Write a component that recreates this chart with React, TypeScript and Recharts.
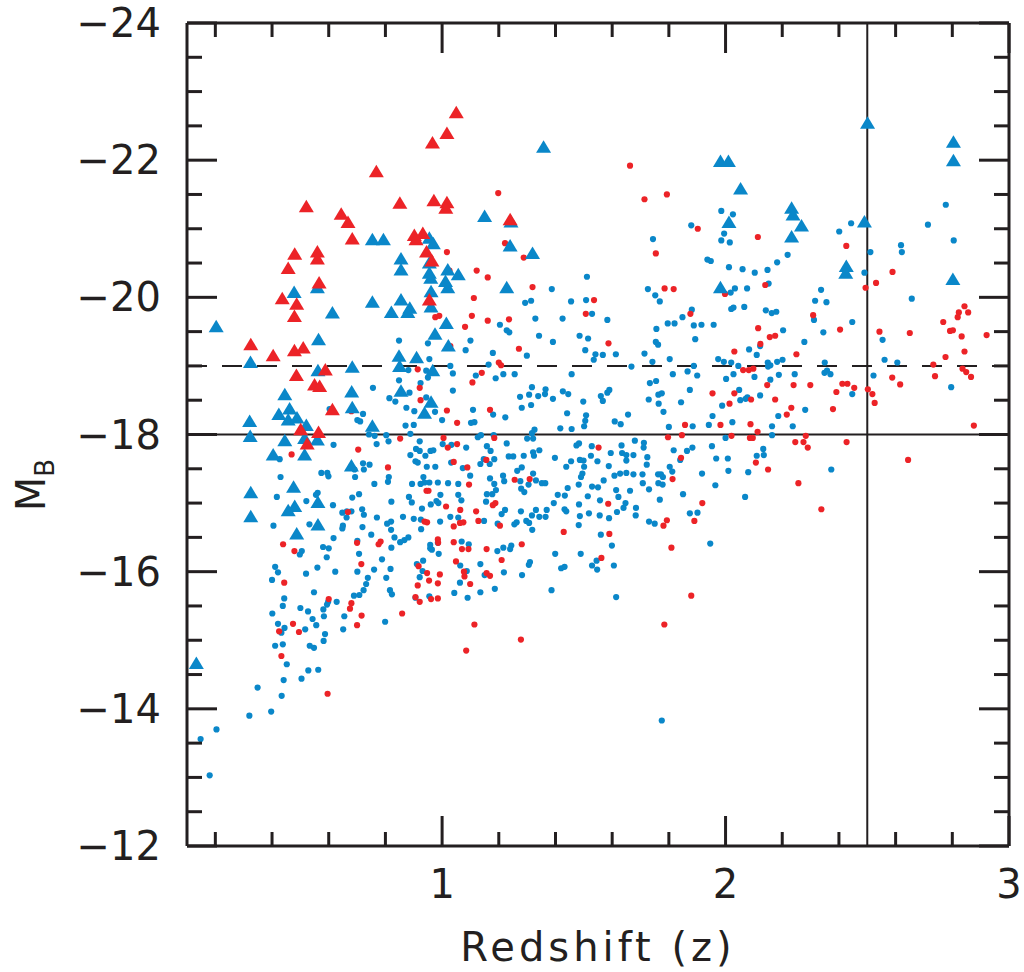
import { ScatterChart, Scatter, XAxis, YAxis, ReferenceLine } from 'recharts';

const INK = '#231f20';
const BLUE = '#0a87c9';
const RED = '#ec2327';
const FONT = '"DejaVu Sans", Verdana, sans-serif';

const W = 1024;
const H = 972;
// each axis takes 1px, so the plot area is 187..1009 x 23..846
const MARGIN = { top: 22, right: 14, bottom: 125, left: 186 };
const PLOT_LEFT = 187;
const PLOT_RIGHT = 1009;

// axis ticks
const zTicks = [0.2, 0.4, 0.6, 0.8, 1, 1.2, 1.4, 1.6, 1.8, 2, 2.2, 2.4, 2.6, 2.8, 3];
const zLabels = [1, 2, 3];
const magTicks = [
  -24, -23.5, -23, -22.5, -22, -21.5, -21, -20.5, -20, -19.5, -19, -18.5, -18,
  -17.5, -17, -16.5, -16, -15.5, -15, -14.5, -14, -13.5, -13, -12.5, -12,
];
const magLabels = [-24, -22, -20, -18, -16, -14, -12];

// reference lines
const magLimit = -18;
const magBright = -19;
const zLimit = 2.5;

// [redshift, M_B]
const blueDots = [
  [1.985, -21.26], [2.026, -21.21], [1.879, -21.05], [1.995, -20.93], [1.744, -20.85], [1.985, -20.83], [2.015, -20.8],
  [1.936, -20.55], [1.948, -20.53], [2.012, -20.44], [1.511, -20.3], [1.387, -20.12], [1.726, -20.12],
  [2.777, -21.35], [2.714, -21.06], [2.443, -21.08], [2.401, -20.96], [2.619, -20.76], [2.622, -20.66], [2.805, -20.83],
  [2.511, -20.66], [2.219, -20.62], [2.182, -20.51], [2.148, -20.4], [2.103, -20.36], [2.06, -20.41], [2.49, -20.36],
  [2.152, -20.2], [2.033, -20.13], [2.076, -20.13], [2.337, -20.11],
  [0.848, -19.37], [0.95, -19.33], [0.955, -19.1], [0.881, -18.94], [0.944, -18.93], [0.95, -18.83], [0.756, -18.68],
  [0.848, -18.79], [0.924, -18.75], [0.885, -18.61], [1.038, -18.64], [0.814, -18.53], [0.835, -18.48], [0.944, -18.54],
  [0.874, -18.39], [0.902, -18.34], [0.975, -18.33], [0.603, -18.37], [0.721, -18.3], [0.701, -18.21], [0.711, -18.19],
  [1.0, -18.21], [0.871, -18.13], [0.9, -18.14], [0.742, -18.0], [0.762, -17.98], [0.803, -17.99], [0.888, -18.01],
  [0.811, -17.9], [0.921, -17.9], [0.617, -17.85], [1.029, -19.0], [1.038, -18.89],
  [1.752, -20.03], [1.768, -19.94], [1.314, -19.95], [1.293, -19.92], [1.455, -19.94], [1.508, -19.96], [1.529, -19.76],
  [1.329, -19.69], [1.425, -19.69], [1.204, -19.6], [1.228, -19.52], [1.237, -19.49], [1.583, -19.67], [1.342, -19.44],
  [1.391, -19.35], [1.485, -19.44], [1.515, -19.4], [1.1, -19.37], [1.083, -19.23], [1.179, -19.19], [1.299, -19.15],
  [1.505, -19.23], [1.541, -19.17], [1.567, -19.16], [1.535, -19.09], [1.613, -19.17], [1.164, -19.02], [1.119, -18.86],
  [1.189, -18.82], [1.216, -18.88], [1.256, -18.88], [1.457, -18.88], [1.668, -18.99], [1.714, -19.18], [1.742, -19.06],
  [1.756, -19.54], [1.754, -19.35], [1.762, -19.31], [1.796, -19.62], [1.82, -19.62], [1.848, -19.71], [1.881, -19.82],
  [1.888, -19.59], [1.915, -19.6], [1.958, -19.6], [1.893, -19.39], [1.803, -19.1], [1.814, -18.88], [1.866, -18.92],
  [1.888, -19.0], [1.9, -18.86], [1.733, -18.75], [1.755, -18.78], [1.317, -18.69], [1.307, -18.58], [1.275, -18.55],
  [1.339, -18.56], [1.363, -18.59], [1.365, -18.66], [1.391, -18.52], [1.426, -18.63], [1.445, -18.59], [1.314, -18.43],
  [1.281, -18.39], [1.498, -18.48], [1.56, -18.56], [1.567, -18.49], [1.583, -18.61], [1.59, -18.65], [1.729, -18.51],
  [1.763, -18.58], [1.775, -18.6], [1.764, -18.45], [1.781, -18.33], [1.843, -18.47], [1.874, -18.65], [1.109, -18.36],
  [1.18, -18.29], [1.223, -18.25], [1.102, -18.17], [1.114, -18.18], [1.441, -18.31], [1.508, -18.28], [1.505, -18.2],
  [1.501, -18.12], [1.457, -18.08], [1.417, -18.09], [1.609, -18.19], [1.63, -18.15], [1.656, -18.29], [1.8, -18.11],
  [1.884, -18.12], [1.941, -18.14], [1.954, -18.27], [1.988, -18.42], [2.002, -18.81], [1.974, -19.1], [1.994, -19.06],
  [2.02, -19.05], [2.028, -18.88], [2.02, -19.83], [2.028, -19.85], [2.018, -20.07], [1.326, -18.07], [1.317, -18.02],
  [1.126, -17.96], [1.137, -17.99], [1.182, -17.99], [1.3, -17.94], [1.321, -17.94], [1.228, -17.87], [1.483, -17.87],
  [1.68, -17.91], [1.712, -17.88], [2.0, -17.95], [2.024, -18.18],
  [2.066, -19.86], [2.142, -19.81], [2.163, -19.77], [2.179, -19.79], [2.316, -19.95], [2.356, -19.93], [2.312, -19.67],
  [2.447, -19.64], [2.657, -19.98], [2.203, -19.52], [2.345, -19.49], [2.554, -19.38], [2.278, -19.35], [2.122, -19.29],
  [2.083, -19.24], [2.11, -19.16], [2.045, -19.0], [2.149, -19.05], [2.158, -19.01], [2.15, -18.99], [2.182, -19.06],
  [2.201, -19.09], [2.35, -19.05], [2.561, -19.09], [2.606, -19.05], [2.102, -18.84], [2.188, -18.87], [2.244, -18.88],
  [2.349, -18.9], [2.358, -18.93], [2.37, -18.88], [2.158, -18.8], [2.522, -18.86], [2.796, -18.69], [2.048, -18.65],
  [2.052, -18.5], [2.071, -18.52], [2.077, -18.54], [2.122, -18.57], [2.447, -18.59], [2.281, -18.36], [2.186, -18.27],
  [2.164, -18.12], [2.237, -18.12], [2.164, -17.99],
  [2.133, -17.79], [2.11, -17.69], [2.135, -17.7], [2.08, -17.45], [2.373, -17.49], [2.069, -17.09],
  [0.769, -17.86], [0.908, -17.79], [0.921, -17.76], [0.959, -17.76], [0.969, -17.77], [1.002, -17.86], [1.033, -17.85],
  [0.888, -17.7], [0.941, -17.69], [0.427, -17.64], [0.721, -17.58], [0.744, -17.56], [0.691, -17.49], [0.724, -17.49],
  [0.906, -17.61], [0.914, -17.59], [0.976, -17.53], [1.032, -17.59], [0.946, -17.53], [0.574, -17.44], [0.595, -17.44],
  [0.599, -17.39], [0.43, -17.38], [0.693, -17.38], [0.812, -17.38], [0.809, -17.31], [0.761, -17.28], [0.934, -17.38],
  [0.955, -17.3], [0.938, -17.3], [0.985, -17.3], [1.021, -17.29], [1.057, -17.28], [0.894, -17.28], [0.924, -17.28],
  [0.561, -17.15], [0.555, -17.12], [0.707, -17.13], [0.683, -17.08], [0.417, -17.09], [0.521, -17.03], [0.615, -16.97],
  [0.648, -16.86], [0.664, -16.88], [0.68, -16.88], [0.718, -16.91], [0.724, -16.83], [0.663, -16.79], [0.821, -17.02],
  [0.883, -17.09], [0.893, -17.01], [0.929, -16.92], [0.96, -16.98], [0.98, -17.03], [0.987, -17.0], [0.994, -17.12],
  [1.057, -17.12], [1.029, -16.8], [1.057, -16.79], [0.993, -16.73], [0.862, -16.8], [0.9, -16.77], [0.925, -16.76],
  [0.926, -16.62], [0.806, -16.7], [0.82, -16.73], [0.82, -16.61], [0.77, -16.79], [0.719, -16.65], [0.65, -16.67],
  [0.648, -16.63], [0.532, -16.69], [0.405, -16.67], [0.617, -16.49], [0.701, -16.45], [0.75, -16.54], [0.832, -16.5],
  [0.852, -16.43], [0.867, -16.46], [0.881, -16.5], [0.821, -16.35], [0.58, -16.36], [0.6, -16.34], [0.505, -16.3],
  [0.498, -16.25], [0.593, -16.21], [0.707, -16.26], [0.788, -16.18], [0.958, -16.39], [0.958, -16.34], [0.964, -16.32],
  [0.988, -16.26], [0.985, -16.42], [0.933, -16.16], [0.911, -16.11], [0.931, -16.01], [0.921, -15.92], [1.064, -16.09],
  [0.411, -16.07], [0.421, -15.99], [0.56, -16.06], [0.623, -16.0], [0.701, -16.0], [0.76, -16.03], [0.818, -16.04],
  [0.738, -15.91], [0.732, -15.82], [0.803, -15.91], [0.4, -15.88], [0.52, -15.97], [0.723, -15.73], [0.816, -15.73],
  [0.823, -15.67], [0.689, -15.65], [0.708, -15.66], [0.443, -15.61], [0.548, -15.7], [0.955, -15.64], [1.043, -15.69],
  [1.063, -15.84],
  [1.085, -17.81], [1.158, -17.83], [1.171, -17.76], [1.135, -17.57], [1.147, -17.64], [1.168, -17.57], [1.184, -17.64],
  [1.073, -17.51], [1.099, -17.4], [1.235, -17.68], [1.251, -17.68], [1.288, -17.69], [1.321, -17.74], [1.343, -17.77],
  [1.324, -17.69], [1.398, -17.66], [1.474, -17.84], [1.528, -17.83], [1.595, -17.73], [1.633, -17.84], [1.635, -17.73],
  [1.711, -17.81], [1.724, -17.67], [1.65, -17.7], [1.65, -17.62], [1.675, -17.7], [1.525, -17.69], [1.486, -17.63],
  [1.499, -17.62], [1.455, -17.61], [1.438, -17.53], [1.548, -17.61], [1.588, -17.54], [1.501, -17.53], [1.495, -17.43],
  [1.49, -17.38], [1.482, -17.27], [1.722, -17.56], [1.817, -17.77], [1.864, -17.76], [1.883, -17.81], [1.952, -17.83],
  [1.84, -17.63], [1.803, -17.53], [1.812, -17.46], [1.967, -17.65], [2.008, -17.65], [2.01, -17.47], [1.917, -17.43],
  [1.964, -17.26], [1.85, -17.13], [1.762, -17.42], [1.772, -17.42], [1.779, -17.38], [1.763, -17.29], [1.778, -17.27],
  [1.73, -17.2], [1.768, -17.05], [1.707, -17.42], [1.675, -17.42], [1.65, -17.44], [1.628, -17.43], [1.608, -17.4],
  [1.708, -17.29], [1.663, -17.18], [1.614, -17.19], [1.622, -17.09], [1.57, -17.33], [1.55, -17.23], [1.529, -17.24],
  [1.514, -17.1], [1.443, -17.22], [1.433, -17.11], [1.408, -17.12], [1.394, -17.0], [1.557, -17.04], [1.483, -16.98],
  [1.647, -17.0], [1.64, -16.93], [1.617, -16.87], [1.684, -16.93], [1.683, -16.82], [1.589, -16.78], [1.556, -16.82],
  [1.518, -16.85], [1.486, -16.81], [1.482, -16.68], [1.432, -16.91], [1.438, -16.88], [1.369, -16.9], [1.331, -16.9],
  [1.365, -16.8], [1.343, -16.8], [1.317, -16.82], [1.297, -16.74], [1.307, -16.71], [1.318, -16.61], [1.263, -16.72],
  [1.255, -16.69], [1.278, -16.88], [1.222, -16.9], [1.21, -16.84], [1.196, -16.7], [1.148, -16.74], [1.158, -17.13],
  [1.177, -17.13], [1.155, -17.02], [1.19, -17.19], [1.184, -17.28], [1.219, -17.32], [1.215, -17.4], [1.169, -17.36],
  [1.265, -17.47], [1.281, -17.52], [1.321, -17.43], [1.331, -17.33], [1.352, -17.29], [1.364, -17.29], [1.279, -17.21],
  [1.29, -17.16], [1.305, -17.27], [1.276, -17.32], [1.068, -17.04], [1.56, -16.54], [1.599, -16.38], [1.606, -16.09],
  [1.489, -16.26], [1.399, -16.26], [1.31, -16.14], [1.306, -16.1], [1.244, -16.38], [1.24, -16.33], [1.216, -16.35],
  [1.195, -16.3], [1.135, -16.11], [1.087, -16.01], [1.069, -16.44], [1.094, -16.4], [1.218, -15.99], [1.15, -15.95],
  [1.282, -15.95], [1.186, -15.75], [1.135, -15.7], [1.09, -15.62], [1.386, -15.73], [1.42, -16.05], [1.432, -16.07],
  [1.529, -16.09], [1.547, -16.03], [1.545, -16.16], [1.614, -15.63], [1.73, -16.73], [1.75, -16.7], [1.874, -16.85],
  [1.901, -16.86], [1.946, -16.41],
  [0.438, -15.5], [0.401, -15.39], [0.5, -15.47], [0.527, -15.42], [0.543, -15.31], [0.583, -15.35], [0.581, -15.45],
  [0.594, -15.52], [0.598, -15.56], [0.628, -15.56], [0.655, -15.35], [0.556, -15.22], [0.517, -15.16], [0.421, -15.24],
  [0.433, -15.11], [0.444, -15.18], [0.587, -15.09], [0.582, -14.99], [0.651, -15.16], [0.799, -15.27], [0.906, -15.62],
  [0.411, -14.92], [0.438, -14.94], [0.533, -14.92], [0.548, -14.89], [0.452, -14.65], [0.528, -14.56], [0.563, -14.57],
  [0.441, -14.42], [0.504, -14.44], [0.349, -14.31], [0.434, -14.19], [0.32, -13.9], [0.397, -13.96], [0.204, -13.7],
  [0.148, -13.56], [0.18, -13.03], [1.775, -13.83],
];

const redDots = [
  [1.017, -20.66], [1.026, -20.39],
  [1.663, -21.92], [1.198, -21.52], [1.714, -21.43], [1.793, -21.5], [1.902, -21.0], [1.222, -20.79], [1.754, -20.64],
  [1.288, -20.58], [1.122, -20.39], [1.161, -20.29], [1.319, -20.15], [1.785, -20.13], [1.817, -20.12],
  [2.114, -20.88], [2.426, -20.75], [2.589, -20.37], [2.531, -20.21], [2.14, -20.18], [2.494, -20.14],
  [0.976, -19.71], [0.99, -19.73], [1.029, -19.29], [0.914, -18.95], [0.921, -18.68], [0.924, -18.5], [0.68, -18.34],
  [1.017, -18.35], [1.053, -18.17], [0.852, -17.94], [1.005, -17.95], [1.053, -17.86],
  [1.112, -19.99], [1.105, -19.73], [1.161, -19.66], [1.236, -19.68], [1.081, -19.57], [1.536, -19.96], [1.507, -19.76],
  [1.876, -19.76], [1.998, -20.05], [1.587, -19.33], [1.271, -19.25], [1.2, -19.05], [1.208, -19.01], [1.14, -18.9],
  [1.107, -18.76], [1.169, -18.36], [1.184, -17.95], [1.797, -17.96], [1.846, -17.99], [1.857, -18.14], [1.982, -18.14],
  [2.014, -18.45], [1.954, -18.6], [2.031, -18.6], [2.031, -19.21], [2.021, -17.98],
  [2.309, -19.74], [2.115, -19.55], [2.156, -19.42], [2.175, -19.44], [2.404, -19.53], [2.123, -19.32], [2.25, -19.17],
  [2.543, -19.5], [2.65, -19.48], [2.768, -19.64], [2.792, -19.51], [2.802, -19.52], [2.823, -19.78], [2.843, -19.87],
  [2.856, -19.78], [2.819, -19.71], [2.833, -19.43], [2.921, -19.45], [2.843, -19.21], [2.776, -19.13], [2.733, -19.02],
  [2.739, -18.85], [2.836, -18.96], [2.849, -18.91], [2.866, -18.84], [2.062, -18.94], [2.082, -18.94], [2.098, -18.96],
  [2.588, -18.83], [2.616, -18.73], [2.147, -18.72], [2.24, -18.72], [2.299, -18.72], [2.412, -18.74], [2.43, -18.74],
  [2.454, -18.68], [2.391, -18.62], [2.502, -18.66], [2.518, -18.59], [2.526, -18.46], [2.09, -18.51], [2.175, -18.51],
  [2.232, -18.39], [2.216, -18.29], [2.379, -18.37], [2.088, -18.15], [2.113, -18.04], [2.086, -17.95], [2.096, -17.95],
  [2.283, -17.98], [2.246, -17.89], [2.275, -17.89], [2.427, -17.89], [2.876, -18.13],
  [2.29, -17.81], [2.644, -17.63], [2.107, -17.59], [2.15, -17.49], [2.257, -17.29], [2.338, -16.91],
  [0.469, -17.71], [0.704, -17.78], [1.02, -17.81], [0.809, -17.52], [1.041, -17.6], [0.945, -17.18], [0.952, -17.18],
  [1.014, -16.95], [1.064, -16.9], [0.668, -16.87], [0.938, -16.73], [0.947, -16.72], [1.041, -16.66], [0.439, -16.4],
  [0.479, -16.3], [0.7, -16.42], [0.783, -16.44], [0.776, -16.4], [0.985, -16.47], [0.986, -16.42], [1.041, -16.43],
  [0.715, -16.11], [0.917, -16.08], [0.947, -15.98], [0.992, -15.96], [0.954, -15.87], [0.985, -15.83], [0.914, -15.8],
  [0.443, -15.84], [1.049, -16.15], [0.6, -15.6], [0.906, -15.63], [0.961, -15.6], [0.985, -15.61],
  [1.552, -17.81], [1.089, -17.52], [1.156, -17.63], [1.095, -17.27], [1.256, -17.34], [1.309, -17.35], [1.179, -16.97],
  [1.188, -17.0], [1.12, -16.88], [1.128, -16.74], [1.063, -16.71], [1.075, -16.72], [1.204, -16.67], [1.429, -16.58],
  [1.59, -16.55], [1.586, -16.99], [1.843, -17.66], [1.813, -17.35], [1.918, -17.0], [1.89, -16.74], [1.793, -16.75],
  [1.781, -16.67], [1.809, -16.35], [1.281, -16.4], [1.157, -16.33], [1.07, -16.33], [1.093, -16.33], [1.21, -16.17],
  [1.077, -16.0], [1.079, -15.93], [1.157, -15.98], [1.169, -15.94], [1.099, -15.82], [1.562, -16.2], [1.879, -15.65],
  [0.68, -15.54], [0.675, -15.46], [0.716, -15.36], [0.7, -15.22], [0.474, -15.24], [0.425, -15.13], [0.495, -15.12],
  [0.433, -14.77], [0.859, -15.39], [0.921, -15.56], [0.596, -14.22],
  [1.114, -15.23], [1.085, -14.85], [1.278, -15.01], [1.784, -15.23],
];

const blueTriangles = [
  [0.133, -14.66], [0.203, -19.57], [0.324, -19.05], [0.478, -20.07], [0.56, -20.14], [0.613, -19.77], [0.564, -19.38],
  [0.562, -18.93], [0.683, -18.98], [0.754, -19.93], [0.855, -19.96], [0.821, -19.78], [0.886, -19.84], [0.879, -19.78],
  [0.961, -20.08], [1.02, -20.14], [0.961, -19.86], [1.015, -19.62], [0.975, -19.46], [1.022, -19.29], [0.848, -19.14],
  [0.91, -19.12], [0.85, -18.99], [0.967, -18.93], [0.681, -18.62], [0.683, -18.39], [0.855, -18.63], [0.961, -18.47],
  [0.938, -18.31], [0.445, -18.58], [0.462, -18.37], [0.424, -18.29], [0.457, -18.21], [0.488, -18.24], [0.521, -18.13],
  [0.321, -18.19], [0.323, -17.97], [0.754, -18.12], [0.56, -17.92], [0.445, -17.91], [0.515, -17.94], [0.754, -20.84],
  [0.793, -20.84], [0.955, -20.86], [0.969, -20.78], [0.855, -20.56], [0.855, -20.4], [0.955, -20.5], [0.955, -20.35],
  [0.96, -20.28], [1.02, -20.4], [1.012, -20.23], [1.057, -20.33], [1.358, -22.19], [1.982, -21.98], [2.01, -21.98],
  [1.15, -21.18], [1.243, -21.1], [1.24, -20.75], [1.319, -20.64], [1.228, -20.14], [2.012, -21.09], [2.053, -21.58],
  [1.982, -20.14], [2.501, -22.54], [2.804, -22.26], [2.804, -21.99], [2.233, -21.3], [2.238, -21.2], [2.268, -21.04],
  [2.233, -20.88], [2.49, -21.1], [2.426, -20.45], [2.424, -20.35], [2.802, -20.26], [0.404, -17.7], [0.515, -17.7],
  [0.68, -17.54], [0.325, -17.15], [0.476, -17.23], [0.562, -17.01], [0.48, -16.95], [0.457, -16.89], [0.325, -16.8],
  [0.562, -16.68], [0.487, -16.55],
];

const redTriangles = [
  [1.05, -22.69], [1.017, -22.39], [0.966, -22.25], [0.768, -21.83], [0.851, -21.37], [0.971, -21.41], [1.017, -21.38],
  [1.013, -21.3], [0.521, -21.32], [0.644, -21.21], [0.668, -21.09], [0.683, -20.85], [0.902, -20.9], [0.932, -20.93],
  [0.908, -20.84], [0.48, -20.63], [0.56, -20.66], [0.56, -20.56], [0.457, -20.42], [0.945, -20.66], [0.964, -20.53],
  [0.566, -20.21], [1.24, -21.13], [0.436, -19.98], [0.487, -19.9], [0.479, -19.72], [0.325, -19.31], [0.404, -19.15],
  [0.479, -19.22], [0.51, -19.26], [0.486, -18.86], [0.588, -18.94], [0.55, -18.72], [0.568, -18.7], [0.613, -18.36],
  [0.501, -18.07], [0.564, -18.03], [0.955, -19.96], [0.524, -17.86],
];

const rows = (pts: number[][]) => pts.map(([z, mag]) => ({ z, mag }));

const magText = (v: number) => (v < 0 ? `\u2212${Math.abs(v)}` : `${v}`);

function DotShape(props: any) {
  const { cx, cy, fill } = props;
  if (cx == null || cy == null) return null;
  return <circle cx={cx} cy={cy} r={3.1} fill={fill} />;
}

function TriShape(props: any) {
  const { cx, cy, fill } = props;
  if (cx == null || cy == null) return null;
  return (
    <polygon
      points={`${cx},${cy - 7} ${cx - 7.5},${cy + 5.5} ${cx + 7.5},${cy + 5.5}`}
      fill={fill}
    />
  );
}

function BottomTick({ x, y, payload }: any) {
  const major = zLabels.includes(payload.value);
  return (
    <g>
      <line x1={x} x2={x} y1={y} y2={y - (major ? 30 : 14)} stroke={INK} strokeWidth={3} />
      {major && (
        <text x={x} y={y + 52} textAnchor="middle" fontSize={40} fontFamily={FONT} fill={INK}>
          {payload.value}
        </text>
      )}
    </g>
  );
}

function TopTick({ x, y, payload }: any) {
  const major = zLabels.includes(payload.value);
  return <line x1={x} x2={x} y1={y} y2={y + (major ? 30 : 14)} stroke={INK} strokeWidth={3} />;
}

function LeftTick({ x, y, payload }: any) {
  const major = magLabels.includes(payload.value);
  return (
    <g>
      <line x1={x} x2={x + (major ? 30 : 15)} y1={y} y2={y} stroke={INK} strokeWidth={3} />
      {major && (
        <text
          x={x - 26}
          y={y}
          textAnchor="end"
          dominantBaseline="central"
          fontSize={40}
          fontFamily={FONT}
          fill={INK}
        >
          {magText(payload.value)}
        </text>
      )}
    </g>
  );
}

function RightTick({ x, y, payload }: any) {
  const major = magLabels.includes(payload.value);
  return <line x1={x} x2={x - (major ? 30 : 15)} y1={y} y2={y} stroke={INK} strokeWidth={3} />;
}

function XTitle() {
  const cx = (PLOT_LEFT + PLOT_RIGHT) / 2;
  return (
    <text x={cx} y={961} textAnchor="middle" fontSize={40} letterSpacing={4} fontFamily={FONT} fill={INK}>
      Redshift (z)
    </text>
  );
}

function YTitle() {
  return (
    <text
      transform="rotate(-90)"
      x={-485}
      y={45}
      textAnchor="middle"
      fontSize={40}
      fontFamily={FONT}
      fill={INK}
    >
      M
      <tspan fontSize={26} dy={9}>
        B
      </tspan>
    </text>
  );
}

const axisLine = { stroke: INK, strokeWidth: 3 };

export default function App() {
  return (
    <div style={{ position: 'absolute', left: 0, top: 0, width: W, height: H, background: '#fff' }}>
      <ScatterChart width={W} height={H} margin={MARGIN}>
        <XAxis
          xAxisId="bottom"
          dataKey="z"
          type="number"
          domain={[0.1, 3]}
          allowDataOverflow
          ticks={zTicks}
          interval={0}
          height={1}
          tickSize={0}
          tickMargin={0}
          tickLine={false}
          axisLine={axisLine}
          tick={<BottomTick />}
          label={<XTitle />}
        />
        <XAxis
          xAxisId="top"
          orientation="top"
          dataKey="z"
          type="number"
          domain={[0.1, 3]}
          allowDataOverflow
          ticks={zTicks}
          interval={0}
          height={1}
          tickSize={0}
          tickMargin={0}
          tickLine={false}
          axisLine={axisLine}
          tick={<TopTick />}
        />
        <YAxis
          yAxisId="left"
          dataKey="mag"
          type="number"
          domain={[-24, -12]}
          reversed
          allowDataOverflow
          ticks={magTicks}
          interval={0}
          width={1}
          tickSize={0}
          tickMargin={0}
          tickLine={false}
          axisLine={axisLine}
          tick={<LeftTick />}
          label={<YTitle />}
        />
        <YAxis
          yAxisId="right"
          orientation="right"
          dataKey="mag"
          type="number"
          domain={[-24, -12]}
          reversed
          allowDataOverflow
          ticks={magTicks}
          interval={0}
          width={1}
          tickSize={0}
          tickMargin={0}
          tickLine={false}
          axisLine={axisLine}
          tick={<RightTick />}
        />
        <ReferenceLine xAxisId="bottom" yAxisId="left" y={magLimit} stroke={INK} strokeWidth={2} />
        <ReferenceLine
          xAxisId="bottom"
          yAxisId="left"
          y={magBright}
          stroke={INK}
          strokeWidth={2}
          strokeDasharray="20 15"
        />
        <ReferenceLine xAxisId="bottom" yAxisId="left" x={zLimit} stroke={INK} strokeWidth={2} />
        <Scatter
          xAxisId="bottom"
          yAxisId="left"
          data={rows(blueDots)}
          fill={BLUE}
          shape={<DotShape />}
          isAnimationActive={false}
        />
        <Scatter
          xAxisId="bottom"
          yAxisId="left"
          data={rows(redDots)}
          fill={RED}
          shape={<DotShape />}
          isAnimationActive={false}
        />
        <Scatter
          xAxisId="bottom"
          yAxisId="left"
          data={rows(blueTriangles)}
          fill={BLUE}
          shape={<TriShape />}
          isAnimationActive={false}
        />
        <Scatter
          xAxisId="bottom"
          yAxisId="left"
          data={rows(redTriangles)}
          fill={RED}
          shape={<TriShape />}
          isAnimationActive={false}
        />
      </ScatterChart>
    </div>
  );
}
